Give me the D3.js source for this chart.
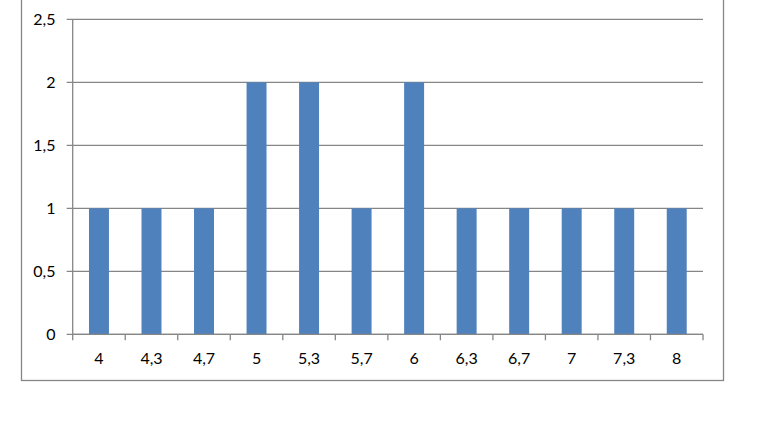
<!DOCTYPE html>
<html>
<head>
<meta charset="utf-8">
<script src="https://cdn.jsdelivr.net/npm/d3@7"></script>
<style>
  body { margin: 0; background: #fff; }
  svg { display: block; }
  text { font-family: Lato, "Open Sans", sans-serif; font-size: 16px; fill: #000; }
</style>
</head>
<body>
<script>
// chart data
var categories = ["4", "4,3", "4,7", "5", "5,3", "5,7", "6", "6,3", "6,7", "7", "7,3", "8"];
var values = [1, 1, 1, 2, 2, 1, 2, 1, 1, 1, 1, 1];
var yTicks = [0, 0.5, 1, 1.5, 2, 2.5];

var width = 777, height = 428;
var svg = d3.select("body").append("svg")
    .attr("width", width)
    .attr("height", height);

// outer frame (top edge sits above the window)
svg.append("rect")
    .attr("x", 21.5).attr("y", -5)
    .attr("width", 702).attr("height", 385.5)
    .attr("fill", "none")
    .attr("stroke", "#868686")
    .attr("stroke-width", 1.3);

var plotLeft = 72.7, plotRight = 703, plotTop = 19.3, plotBottom = 334.3;

var x = d3.scaleBand()
    .domain(categories)
    .range([plotLeft, plotRight])
    .paddingInner(0.62)
    .paddingOuter(0.31);

var y = d3.scaleLinear()
    .domain([0, 2.5])
    .range([plotBottom, plotTop]);

// gridlines
svg.append("g")
    .selectAll("line")
    .data(yTicks)
    .enter()
    .append("line")
    .attr("x1", plotLeft - 6)
    .attr("x2", plotRight)
    .attr("y1", function (d) { return y(d); })
    .attr("y2", function (d) { return y(d); })
    .style("stroke", "#868686")
    .style("stroke-width", 1.3);

// y labels
svg.append("g")
    .selectAll("text")
    .data(yTicks)
    .enter()
    .append("text")
    .attr("x", 55.5)
    .attr("y", function (d) { return y(d); })
    .attr("dy", "0.35em")
    .attr("text-anchor", "end")
    .text(function (d) { return String(d).replace(".", ","); });

// bars
svg.append("g")
    .selectAll("rect")
    .data(values)
    .enter()
    .append("rect")
    .attr("x", function (d, i) { return x(categories[i]); })
    .attr("width", x.bandwidth())
    .attr("y", function (d) { return y(d); })
    .attr("height", function (d) { return y(0) - y(d); })
    .style("fill", "#4F81BD");

// y axis line
svg.append("line")
    .attr("x1", plotLeft).attr("x2", plotLeft)
    .attr("y1", plotTop).attr("y2", plotBottom)
    .style("stroke", "#868686")
    .style("stroke-width", 1.3);

// x axis line + ticks between categories
var step = x.step();
var tickPos = d3.range(categories.length + 1).map(function (i) { return plotLeft + i * step; });
svg.append("line")
    .attr("x1", plotLeft).attr("x2", plotRight)
    .attr("y1", plotBottom).attr("y2", plotBottom)
    .style("stroke", "#868686")
    .style("stroke-width", 1.3);
svg.append("g")
    .selectAll("line")
    .data(tickPos)
    .enter()
    .append("line")
    .attr("x1", function (d) { return d; })
    .attr("x2", function (d) { return d; })
    .attr("y1", plotBottom)
    .attr("y2", plotBottom + 6)
    .style("stroke", "#868686")
    .style("stroke-width", 1.3);

// x labels
svg.append("g")
    .selectAll("text")
    .data(categories)
    .enter()
    .append("text")
    .attr("x", function (d) { return x(d) + x.bandwidth() / 2; })
    .attr("y", 358)
    .attr("dy", "0.35em")
    .attr("text-anchor", "middle")
    .text(function (d) { return d; });
</script>
</body>
</html>
